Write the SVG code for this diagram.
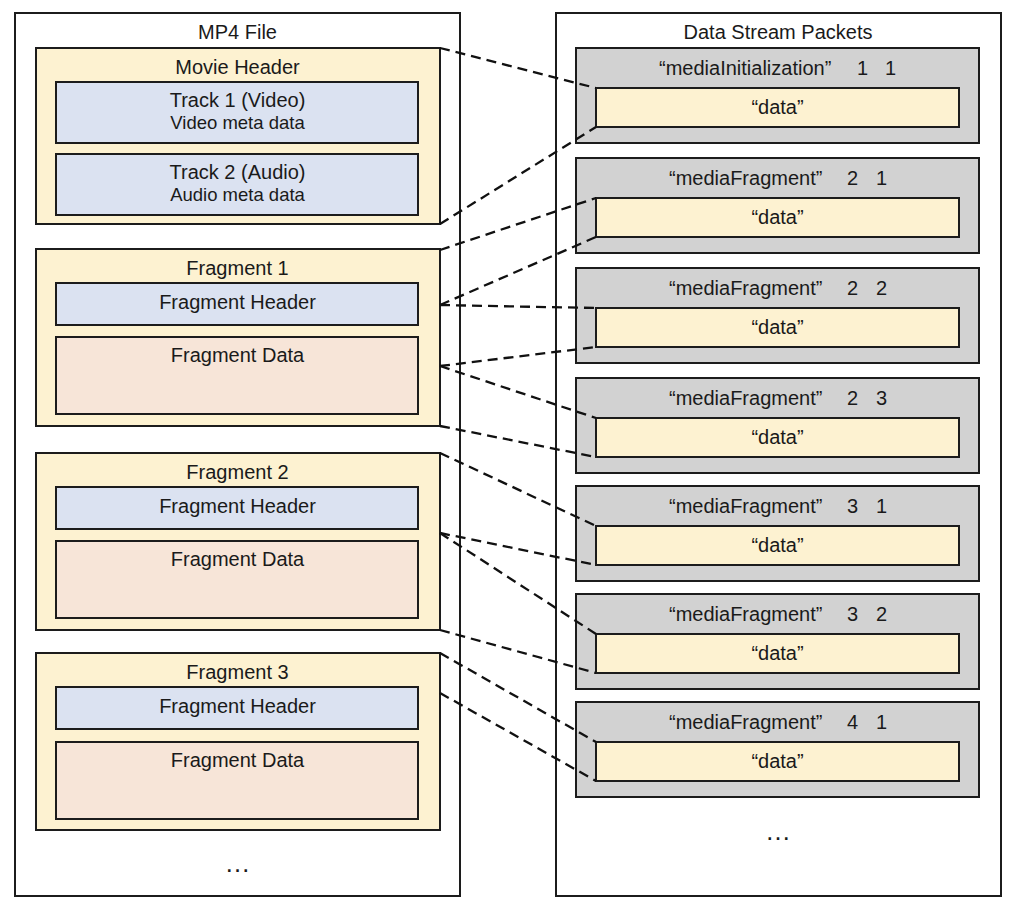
<svg xmlns="http://www.w3.org/2000/svg" width="1015" height="911" viewBox="0 0 1015 911">
<style>
rect{stroke:#1c1c1c;stroke-width:2}
.outer{fill:#ffffff}
.yel{fill:#fdf2d1}
.blu{fill:#dbe2f1}
.pch{fill:#f7e5d8}
.gry{fill:#d2d2d2}
text{font-family:"Liberation Sans",Arial,Helvetica,sans-serif;fill:#1a1a1a;font-size:20px}
.c{text-anchor:middle}
.s{font-size:18.5px}
.el{font-size:26px}
.conn line{stroke:#111;stroke-width:2.3;stroke-dasharray:10 6;fill:none}
</style>
<rect width="1015" height="911" fill="#ffffff" style="stroke:none"/>

<g id="mp4-file">
<rect class="outer" x="15" y="13" width="445" height="883"/>
<text class="c" x="237.5" y="39">MP4 File</text>
<text class="c el" x="237.5" y="872">…</text>
</g>

<g id="movie-header">
<rect class="yel" x="36" y="48" width="404" height="176"/>
<text class="c" x="237.5" y="74">Movie Header</text>
</g>
<g id="track1">
<rect class="blu" x="56" y="82" width="362" height="61"/>
<text class="c" x="237.5" y="107">Track 1 (Video)</text>
<text class="c s" x="237.5" y="129">Video meta data</text>
</g>
<g id="track2">
<rect class="blu" x="56" y="154" width="362" height="61"/>
<text class="c" x="237.5" y="179">Track 2 (Audio)</text>
<text class="c s" x="237.5" y="201">Audio meta data</text>
</g>

<g id="fragment1">
<rect class="yel" x="36" y="249" width="404" height="177"/>
<text class="c" x="237.5" y="275">Fragment 1</text>
</g>
<g id="fragment1-header">
<rect class="blu" x="56" y="283" width="362" height="42"/>
<text class="c" x="237.5" y="309">Fragment Header</text>
</g>
<g id="fragment1-data">
<rect class="pch" x="56" y="337" width="362" height="77"/>
<text class="c" x="237.5" y="362">Fragment Data</text>
</g>

<g id="fragment2">
<rect class="yel" x="36" y="453" width="404" height="177"/>
<text class="c" x="237.5" y="479">Fragment 2</text>
</g>
<g id="fragment2-header">
<rect class="blu" x="56" y="487" width="362" height="42"/>
<text class="c" x="237.5" y="513">Fragment Header</text>
</g>
<g id="fragment2-data">
<rect class="pch" x="56" y="541" width="362" height="77"/>
<text class="c" x="237.5" y="566">Fragment Data</text>
</g>

<g id="fragment3">
<rect class="yel" x="36" y="653" width="404" height="177"/>
<text class="c" x="237.5" y="679">Fragment 3</text>
</g>
<g id="fragment3-header">
<rect class="blu" x="56" y="687" width="362" height="42"/>
<text class="c" x="237.5" y="713">Fragment Header</text>
</g>
<g id="fragment3-data">
<rect class="pch" x="56" y="742" width="362" height="77"/>
<text class="c" x="237.5" y="767">Fragment Data</text>
</g>

<g id="data-stream-packets">
<rect class="outer" x="556" y="13" width="445" height="883"/>
<text class="c" x="778" y="39">Data Stream Packets</text>
<text class="c el" x="778" y="840">…</text>
</g>

<g id="packet1">
<rect class="gry" x="576" y="48" width="403" height="95"/>
<text x="659" y="75">“mediaInitialization”<tspan x="857">1</tspan><tspan x="885">1</tspan></text>
<rect class="yel" x="596" y="88" width="363" height="39"/>
<text class="c" x="777.5" y="114">“data”</text>
</g>
<g id="packet2">
<rect class="gry" x="576" y="158" width="403" height="95"/>
<text x="669" y="185">“mediaFragment”<tspan x="847">2</tspan><tspan x="876">1</tspan></text>
<rect class="yel" x="596" y="198" width="363" height="39"/>
<text class="c" x="777.5" y="224">“data”</text>
</g>
<g id="packet3">
<rect class="gry" x="576" y="268" width="403" height="95"/>
<text x="669" y="295">“mediaFragment”<tspan x="847">2</tspan><tspan x="876">2</tspan></text>
<rect class="yel" x="596" y="308" width="363" height="39"/>
<text class="c" x="777.5" y="334">“data”</text>
</g>
<g id="packet4">
<rect class="gry" x="576" y="378" width="403" height="95"/>
<text x="669" y="405">“mediaFragment”<tspan x="847">2</tspan><tspan x="876">3</tspan></text>
<rect class="yel" x="596" y="418" width="363" height="39"/>
<text class="c" x="777.5" y="444">“data”</text>
</g>
<g id="packet5">
<rect class="gry" x="576" y="486" width="403" height="95"/>
<text x="669" y="513">“mediaFragment”<tspan x="847">3</tspan><tspan x="876">1</tspan></text>
<rect class="yel" x="596" y="526" width="363" height="39"/>
<text class="c" x="777.5" y="552">“data”</text>
</g>
<g id="packet6">
<rect class="gry" x="576" y="594" width="403" height="95"/>
<text x="669" y="621">“mediaFragment”<tspan x="847">3</tspan><tspan x="876">2</tspan></text>
<rect class="yel" x="596" y="634" width="363" height="39"/>
<text class="c" x="777.5" y="660">“data”</text>
</g>
<g id="packet7">
<rect class="gry" x="576" y="702" width="403" height="95"/>
<text x="669" y="729">“mediaFragment”<tspan x="847">4</tspan><tspan x="876">1</tspan></text>
<rect class="yel" x="596" y="742" width="363" height="39"/>
<text class="c" x="777.5" y="768">“data”</text>
</g>

<g id="connectors" class="conn">
<line x1="440" y1="48" x2="596" y2="88"/>
<line x1="440" y1="224" x2="596" y2="127"/>
<line x1="440" y1="250" x2="596" y2="198"/>
<line x1="440" y1="305" x2="596" y2="237"/>
<line x1="440" y1="305" x2="596" y2="308"/>
<line x1="440" y1="366" x2="596" y2="347"/>
<line x1="440" y1="366" x2="596" y2="418"/>
<line x1="440" y1="426" x2="596" y2="457"/>
<line x1="440" y1="453" x2="596" y2="526"/>
<line x1="440" y1="533" x2="596" y2="565"/>
<line x1="440" y1="533" x2="596" y2="634"/>
<line x1="440" y1="630" x2="596" y2="673"/>
<line x1="440" y1="653" x2="596" y2="742"/>
<line x1="440" y1="693" x2="596" y2="781"/>
</g>
</svg>
